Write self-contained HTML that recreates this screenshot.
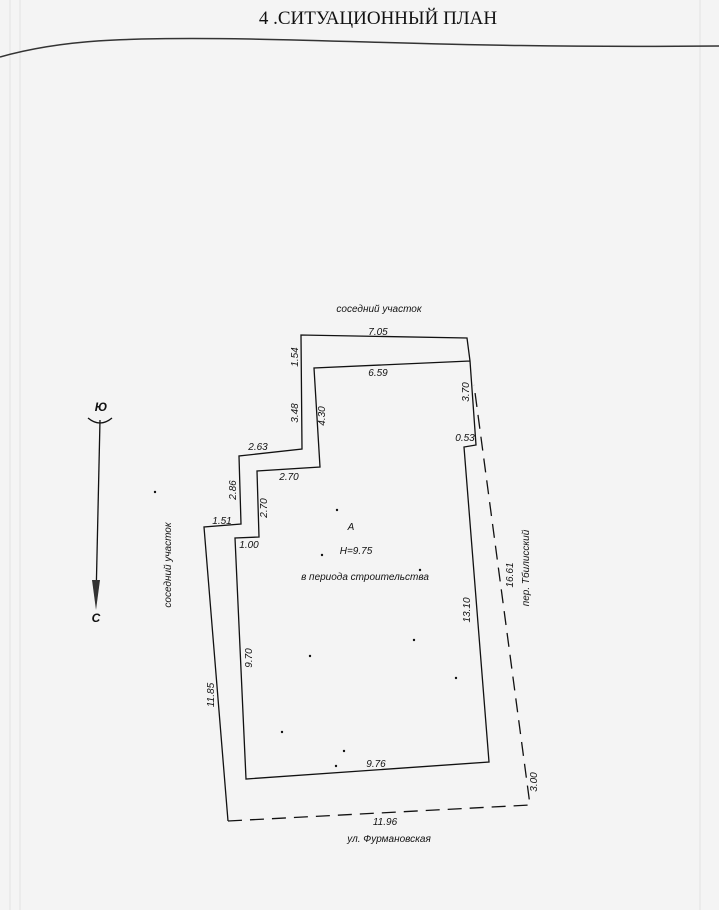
<!DOCTYPE html>
<html><head><meta charset="utf-8"><style>
html,body{margin:0;padding:0;background:#f3f3f3;}
svg{display:block}
text{font-family:"Liberation Sans",sans-serif;font-style:italic;font-size:10px;fill:#111}
</style></head><body>
<svg width="719" height="910" viewBox="0 0 719 910" xmlns="http://www.w3.org/2000/svg">
<rect width="719" height="910" fill="#f4f4f4"/>
<g stroke="#e2e2e2" stroke-width="1">
<line x1="10" y1="0" x2="10" y2="910"/><line x1="20" y1="0" x2="20" y2="910"/>
<line x1="700" y1="0" x2="700" y2="910"/>
</g>
<text x="378" y="24" text-anchor="middle" style="font-family:'Liberation Serif',serif;font-style:normal;font-size:19px">4 .СИТУАЦИОННЫЙ ПЛАН</text>
<path d="M0 57 C60 40,120 37,250 39 C400 42,500 48,719 46" fill="none" stroke="#333" stroke-width="1.5"/>
<g fill="none" stroke="#111" stroke-width="1.3">
<polyline points="228,821 204,527 241,524 239,456 302,449 301,335 467,338 470,361 476,445 464,447 489,762 246,779 235,538 259,537 257,471 320,467 314,368 470,361"/>
<polyline points="228,821 530,805 474,385" stroke-dasharray="14,8"/>
<line x1="100" y1="420" x2="96" y2="600"/>
<path d="M88 418 Q100 428 112 418"/>
</g>
<polygon points="92,580 100,580 96,610" fill="#333"/>
<text x="101" y="411" text-anchor="middle" style="font-size:12px;font-weight:bold">Ю</text>
<text x="96" y="622" text-anchor="middle" style="font-size:12px;font-weight:bold">С</text>
<text x="379" y="312" text-anchor="middle">соседний участок</text>
<text x="378" y="335" text-anchor="middle">7.05</text>
<text x="378" y="376" text-anchor="middle">6.59</text>
<text x="258" y="450" text-anchor="middle">2.63</text>
<text x="289" y="480" text-anchor="middle">2.70</text>
<text x="222" y="524" text-anchor="middle">1.51</text>
<text x="249" y="548" text-anchor="middle">1.00</text>
<text x="465" y="441" text-anchor="middle">0.53</text>
<text x="351" y="530" text-anchor="middle">А</text>
<text x="356" y="554" text-anchor="middle">Н=9.75</text>
<text x="365" y="580" text-anchor="middle">в периода строительства</text>
<text x="376" y="767" text-anchor="middle">9.76</text>
<text x="385" y="825" text-anchor="middle">11.96</text>
<text x="389" y="842" text-anchor="middle">ул. Фурмановская</text>
<g>
<text transform="translate(298,357) rotate(-90)" text-anchor="middle">1.54</text>
<text transform="translate(298,413) rotate(-90)" text-anchor="middle">3.48</text>
<text transform="translate(325,416) rotate(-90)" text-anchor="middle">4.30</text>
<text transform="translate(236,490) rotate(-90)" text-anchor="middle">2.86</text>
<text transform="translate(267,508) rotate(-90)" text-anchor="middle">2.70</text>
<text transform="translate(469,392) rotate(-90)" text-anchor="middle">3.70</text>
<text transform="translate(513,575) rotate(-90)" text-anchor="middle">16.61</text>
<text transform="translate(529,568) rotate(-90)" text-anchor="middle">пер. Тбилисский</text>
<text transform="translate(470,610) rotate(-90)" text-anchor="middle">13.10</text>
<text transform="translate(252,658) rotate(-90)" text-anchor="middle">9.70</text>
<text transform="translate(214,695) rotate(-90)" text-anchor="middle">11.85</text>
<text transform="translate(537,782) rotate(-90)" text-anchor="middle">3.00</text>
<text transform="translate(171,565) rotate(-90)" text-anchor="middle">соседний участок</text>
</g>
<g fill="#111">
<circle cx="337" cy="510" r="1.2"/><circle cx="322" cy="555" r="1.2"/><circle cx="420" cy="570" r="1.2"/>
<circle cx="310" cy="656" r="1.2"/><circle cx="414" cy="640" r="1.2"/><circle cx="456" cy="678" r="1.2"/>
<circle cx="282" cy="732" r="1.2"/><circle cx="344" cy="751" r="1.2"/><circle cx="336" cy="766" r="1.2"/>
<circle cx="155" cy="492" r="1.2"/>
</g>
</svg>
</body></html>
